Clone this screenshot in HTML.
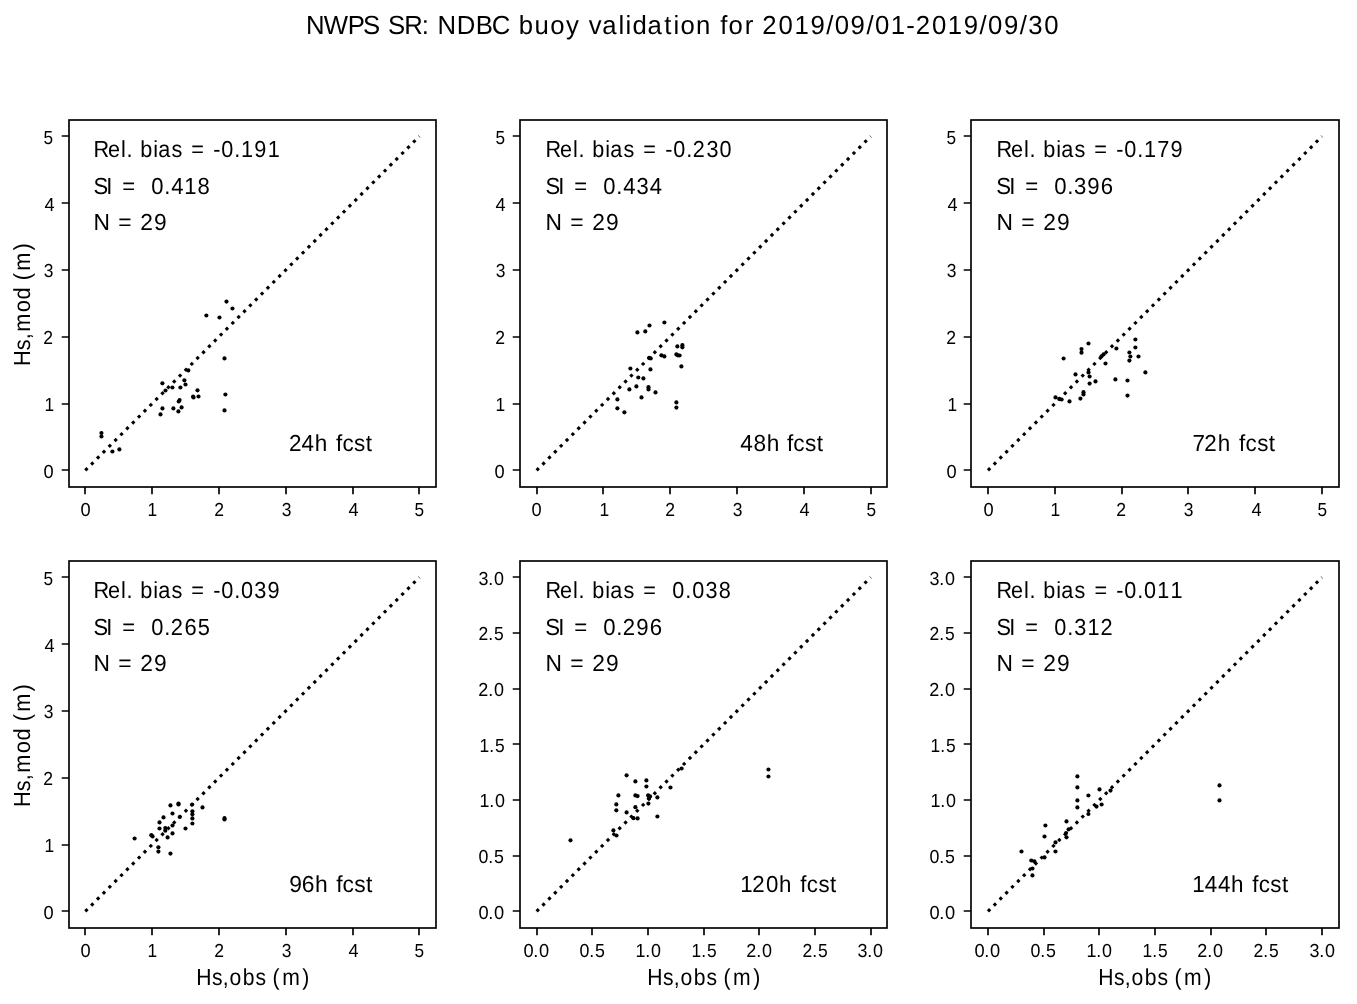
<!DOCTYPE html>
<html lang="en">
<head>
<meta charset="utf-8">
<title>NWPS SR: NDBC buoy validation</title>
<style>
html,body{margin:0;padding:0;background:#fff;}
body{width:1357px;height:1004px;overflow:hidden;}
svg{display:block;will-change:transform;}
svg text{font-family:'Liberation Sans', sans-serif;fill:#000;white-space:pre;text-rendering:geometricPrecision;}
.sp{fill:none;stroke:#000;stroke-width:1.667;stroke-linejoin:miter;}
.tk{stroke:#000;stroke-width:1.667;fill:none;}
.dg{stroke:#000;stroke-width:3.125;stroke-dasharray:3.125 5.15625;fill:none;}
.pt circle{fill:#000;}
</style>
</head>
<body>
<svg width="1357" height="1004" viewBox="0 0 1357 1004">
<rect x="0" y="0" width="1357" height="1004" fill="#fff"/>
<g id="title">
<text xml:space="preserve" transform="scale(0.983,1)" x="311.19 329.46 353.84 369.35 386.81 394.72 411.13 428.99 436.26 445.16 464.65 483.98 500.34 519.24 527.84 543.84 559.76 575.87 588.96 599.01 612.63 629.26 636.41 643.56 658.64 675.86 685.23 692.19 708.11 722.67 732.83 741.14 757.56 766.28 775.5 792.07 808.15 824.4 840.55 849.17 865.31 881.47 890.09 906.18 921.95 931.52 948.09 964.17 980.42 996.57 1005.19 1021.33 1037.49 1046.11 1062.3" y="34" font-size="26.17">NWPS SR: NDBC buoy validation for 2019/09/01-2019/09/30</text>
</g>
<g id="panel1">
<line class="dg" x1="85.3" y1="470.4" x2="419.4" y2="136.3"/>
<g class="pt"><circle cx="101.45" cy="433" r="2.08"/><circle cx="101.45" cy="436.5" r="2.08"/><circle cx="112.4" cy="451.5" r="2.08"/><circle cx="119.4" cy="449.4" r="2.08"/><circle cx="162.4" cy="383.3" r="2.08"/><circle cx="165.5" cy="390.5" r="2.08"/><circle cx="172.4" cy="387.5" r="2.08"/><circle cx="180.4" cy="387.5" r="2.08"/><circle cx="184.4" cy="380.3" r="2.08"/><circle cx="185.5" cy="384.5" r="2.08"/><circle cx="188.3" cy="370.4" r="2.08"/><circle cx="197.5" cy="390.3" r="2.08"/><circle cx="193.1" cy="396.6" r="2.08"/><circle cx="193.5" cy="397.5" r="2.08"/><circle cx="198.5" cy="396.5" r="2.08"/><circle cx="179.6" cy="400.1" r="2.08"/><circle cx="178.7" cy="401.5" r="2.08"/><circle cx="162.45" cy="408.4" r="2.08"/><circle cx="160.5" cy="414.4" r="2.08"/><circle cx="173.4" cy="408.4" r="2.08"/><circle cx="178.4" cy="411.4" r="2.08"/><circle cx="181.6" cy="407.4" r="2.08"/><circle cx="224.5" cy="358.4" r="2.08"/><circle cx="225.4" cy="394.5" r="2.08"/><circle cx="224.5" cy="410.4" r="2.08"/><circle cx="226.5" cy="301.6" r="2.08"/><circle cx="232.45" cy="308.5" r="2.08"/><circle cx="206.35" cy="315.5" r="2.08"/><circle cx="219.5" cy="317.5" r="2.08"/></g>
<path class="tk" d="M85 487V494.29M69 470H61.71M152 487V494.29M69 404H61.71M219 487V494.29M69 337H61.71M286 487V494.29M69 270H61.71M353 487V494.29M69 203H61.71M419 487V494.29M69 136H61.71"/>
<rect class="sp" x="69" y="120" width="367" height="367"/>
<text xml:space="preserve" transform="scale(0.966,1)" x="83.25" y="515.98" font-size="18.9">0</text>
<text xml:space="preserve" transform="scale(0.921,1)" x="160.2" y="516" font-size="18.9">1</text>
<text xml:space="preserve" transform="scale(0.93,1)" x="230.5" y="516" font-size="18.9">2</text>
<text xml:space="preserve" transform="scale(0.923,1)" x="305.15" y="515.98" font-size="18.9">3</text>
<text xml:space="preserve" transform="scale(0.96,1)" x="362.91" y="516" font-size="18.9">4</text>
<text xml:space="preserve" transform="scale(0.911,1)" x="455.13" y="515.98" font-size="18.9">5</text>
<text xml:space="preserve" transform="scale(0.966,1)" x="44.95" y="477.98" font-size="18.9">0</text>
<text xml:space="preserve" transform="scale(0.921,1)" x="48.37" y="411" font-size="18.9">1</text>
<text xml:space="preserve" transform="scale(0.93,1)" x="46.63" y="344" font-size="18.9">2</text>
<text xml:space="preserve" transform="scale(0.923,1)" x="47.29" y="276.98" font-size="18.9">3</text>
<text xml:space="preserve" transform="scale(0.96,1)" x="46.25" y="211" font-size="18.9">4</text>
<text xml:space="preserve" transform="scale(0.911,1)" x="47.89" y="143.98" font-size="18.9">5</text>
<text xml:space="preserve" transform="scale(0.932,1)" x="100.39 115.81 129.72 135.78 142.24 150.48 164.47 169.75 184.07 195.7 205.33 218.9 228.83 237.36 251.26 258.61 272.91 287.17" y="157" font-size="23.25">Rel. bias = -0.191</text>
<text xml:space="preserve" transform="scale(0.947,1)" x="98.64 112.14 118.6 129.11 142.69 142.69 159.72 173.45 180.72 194.61 208.62" y="194" font-size="23.25">SI =  0.418</text>
<text xml:space="preserve" transform="scale(0.98,1)" x="95.42 112.21 120.7 134.28 143.21 157.06" y="230" font-size="23.25">N = 29</text>
<text xml:space="preserve" transform="scale(0.968,1)" x="298.61 311.6 325.23 338.16 347.18 353.82 365.81 377.94" y="451" font-size="23.25">24h fcst</text>
<text xml:space="preserve" transform="translate(30,364) rotate(-90) scale(0.936,1)" x="-2.19 14.73 26.38 34.45 55.22 69 81.93 89.46 99.62 121.24" y="0" font-size="23.25">Hs,mod (m)</text>
</g>
<g id="panel2">
<line class="dg" x1="536.62" y1="470.4" x2="870.72" y2="136.3"/>
<g class="pt"><circle cx="664.4" cy="322.5" r="2.08"/><circle cx="649.5" cy="325.5" r="2.08"/><circle cx="645.3" cy="331.4" r="2.08"/><circle cx="637.4" cy="332.4" r="2.08"/><circle cx="677.35" cy="346.45" r="2.08"/><circle cx="682.4" cy="345.2" r="2.08"/><circle cx="682.4" cy="347.35" r="2.08"/><circle cx="676.35" cy="354.4" r="2.08"/><circle cx="677.85" cy="355.3" r="2.08"/><circle cx="679.6" cy="355.5" r="2.08"/><circle cx="661.4" cy="355.3" r="2.08"/><circle cx="664.4" cy="356.4" r="2.08"/><circle cx="649.2" cy="357.9" r="2.08"/><circle cx="650.7" cy="358.4" r="2.08"/><circle cx="681.4" cy="366.4" r="2.08"/><circle cx="630.4" cy="368.5" r="2.08"/><circle cx="650.45" cy="369.4" r="2.08"/><circle cx="638.3" cy="377.5" r="2.08"/><circle cx="643.4" cy="378.4" r="2.08"/><circle cx="636.4" cy="386.4" r="2.08"/><circle cx="629.4" cy="389.4" r="2.08"/><circle cx="648.5" cy="387.2" r="2.08"/><circle cx="648.5" cy="389.4" r="2.08"/><circle cx="655.5" cy="392.4" r="2.08"/><circle cx="641.5" cy="397.4" r="2.08"/><circle cx="617.4" cy="399.4" r="2.08"/><circle cx="617.4" cy="408.3" r="2.08"/><circle cx="624.4" cy="412.3" r="2.08"/><circle cx="676.4" cy="402.4" r="2.08"/><circle cx="676.4" cy="407.6" r="2.08"/></g>
<path class="tk" d="M537 487V494.29M520 470H512.71M603 487V494.29M520 404H512.71M670 487V494.29M520 337H512.71M737 487V494.29M520 270H512.71M804 487V494.29M520 203H512.71M871 487V494.29M520 136H512.71"/>
<rect class="sp" x="520" y="120" width="367" height="367"/>
<text xml:space="preserve" transform="scale(0.966,1)" x="550.12" y="515.98" font-size="18.9">0</text>
<text xml:space="preserve" transform="scale(0.921,1)" x="650.97" y="516" font-size="18.9">1</text>
<text xml:space="preserve" transform="scale(0.93,1)" x="715.44" y="516" font-size="18.9">2</text>
<text xml:space="preserve" transform="scale(0.923,1)" x="793.77" y="515.98" font-size="18.9">3</text>
<text xml:space="preserve" transform="scale(0.96,1)" x="832.71" y="516" font-size="18.9">4</text>
<text xml:space="preserve" transform="scale(0.911,1)" x="951.29" y="515.98" font-size="18.9">5</text>
<text xml:space="preserve" transform="scale(0.966,1)" x="511.82" y="477.98" font-size="18.9">0</text>
<text xml:space="preserve" transform="scale(0.921,1)" x="538.05" y="411" font-size="18.9">1</text>
<text xml:space="preserve" transform="scale(0.93,1)" x="532.65" y="344" font-size="18.9">2</text>
<text xml:space="preserve" transform="scale(0.923,1)" x="537" y="276.98" font-size="18.9">3</text>
<text xml:space="preserve" transform="scale(0.96,1)" x="516.04" y="211" font-size="18.9">4</text>
<text xml:space="preserve" transform="scale(0.911,1)" x="544.04" y="143.98" font-size="18.9">5</text>
<text xml:space="preserve" transform="scale(0.93,1)" x="586.64 602.09 616.02 622.1 628.56 636.83 650.85 656.15 670.5 682.13 691.8 705.38 715.35 723.91 737.83 744.94 759.58 773.77" y="157" font-size="23.25">Rel. bias = -0.230</text>
<text xml:space="preserve" transform="scale(0.947,1)" x="575.94 589.43 595.89 606.4 619.98 619.98 637.02 650.74 658.01 672.04 685.99" y="194" font-size="23.25">SI =  0.434</text>
<text xml:space="preserve" transform="scale(0.98,1)" x="556.65 573.44 581.93 595.5 604.44 618.28" y="230" font-size="23.25">N = 29</text>
<text xml:space="preserve" transform="scale(0.974,1)" x="760.1 773.63 787.12 800.05 807.93 814.51 826.43 838.5" y="451" font-size="23.25">48h fcst</text>
</g>
<g id="panel3">
<line class="dg" x1="987.94" y1="470.4" x2="1322.04" y2="136.3"/>
<g class="pt"><circle cx="1088.5" cy="343.5" r="2.08"/><circle cx="1081.5" cy="349.1" r="2.08"/><circle cx="1081.5" cy="352.7" r="2.08"/><circle cx="1063.6" cy="358.5" r="2.08"/><circle cx="1135.4" cy="339.5" r="2.08"/><circle cx="1135.4" cy="347.5" r="2.08"/><circle cx="1116.4" cy="348.5" r="2.08"/><circle cx="1129.4" cy="352.5" r="2.08"/><circle cx="1130.4" cy="356.5" r="2.08"/><circle cx="1138.5" cy="356.5" r="2.08"/><circle cx="1129.4" cy="360.6" r="2.08"/><circle cx="1101.5" cy="356.3" r="2.08"/><circle cx="1103.6" cy="354.3" r="2.08"/><circle cx="1105.5" cy="363.5" r="2.08"/><circle cx="1088.5" cy="372.4" r="2.08"/><circle cx="1089.6" cy="376.5" r="2.08"/><circle cx="1075.5" cy="374.4" r="2.08"/><circle cx="1095.5" cy="381.4" r="2.08"/><circle cx="1089.6" cy="383.6" r="2.08"/><circle cx="1115.4" cy="379.4" r="2.08"/><circle cx="1127.5" cy="380.5" r="2.08"/><circle cx="1145.4" cy="372.4" r="2.08"/><circle cx="1083.5" cy="392.2" r="2.08"/><circle cx="1083.5" cy="394.4" r="2.08"/><circle cx="1080.4" cy="398.6" r="2.08"/><circle cx="1069.5" cy="401.4" r="2.08"/><circle cx="1055.5" cy="397.4" r="2.08"/><circle cx="1059.3" cy="398.9" r="2.08"/><circle cx="1061.6" cy="399.5" r="2.08"/><circle cx="1127.5" cy="395.6" r="2.08"/></g>
<path class="tk" d="M988 487V494.29M971 470H963.71M1055 487V494.29M971 404H963.71M1122 487V494.29M971 337H963.71M1188 487V494.29M971 270H963.71M1255 487V494.29M971 203H963.71M1322 487V494.29M971 136H963.71"/>
<rect class="sp" x="971" y="120" width="368" height="367"/>
<text xml:space="preserve" transform="scale(0.966,1)" x="1018.03" y="515.98" font-size="18.9">0</text>
<text xml:space="preserve" transform="scale(0.921,1)" x="1140.66" y="516" font-size="18.9">1</text>
<text xml:space="preserve" transform="scale(0.93,1)" x="1200.39" y="516" font-size="18.9">2</text>
<text xml:space="preserve" transform="scale(0.923,1)" x="1282.39" y="515.98" font-size="18.9">3</text>
<text xml:space="preserve" transform="scale(0.96,1)" x="1303.54" y="516" font-size="18.9">4</text>
<text xml:space="preserve" transform="scale(0.911,1)" x="1446.35" y="515.98" font-size="18.9">5</text>
<text xml:space="preserve" transform="scale(0.966,1)" x="979.73" y="477.98" font-size="18.9">0</text>
<text xml:space="preserve" transform="scale(0.921,1)" x="1028.82" y="411" font-size="18.9">1</text>
<text xml:space="preserve" transform="scale(0.93,1)" x="1017.59" y="344" font-size="18.9">2</text>
<text xml:space="preserve" transform="scale(0.923,1)" x="1025.62" y="276.98" font-size="18.9">3</text>
<text xml:space="preserve" transform="scale(0.96,1)" x="986.87" y="211" font-size="18.9">4</text>
<text xml:space="preserve" transform="scale(0.911,1)" x="1039.1" y="143.98" font-size="18.9">5</text>
<text xml:space="preserve" transform="scale(0.934,1)" x="1066.96 1082.36 1096.25 1102.3 1108.76 1116.95 1130.92 1136.19 1150.48 1162.1 1171.68 1185.26 1195.14 1203.65 1217.53 1224.85 1239.1 1253.31" y="157" font-size="23.25">Rel. bias = -0.179</text>
<text xml:space="preserve" transform="scale(0.954,1)" x="1044.4 1057.83 1064.29 1074.65 1088.23 1088.23 1105.04 1118.69 1125.92 1139.77 1153.83" y="194" font-size="23.25">SI =  0.396</text>
<text xml:space="preserve" transform="scale(0.98,1)" x="1016.85 1033.64 1042.13 1055.71 1064.64 1078.48" y="230" font-size="23.25">N = 29</text>
<text xml:space="preserve" transform="scale(0.964,1)" x="1236.91 1249.31 1263.33 1276.26 1285.36 1292.03 1304.08 1316.25" y="451" font-size="23.25">72h fcst</text>
</g>
<g id="panel4">
<line class="dg" x1="85.3" y1="911.4" x2="419.4" y2="577.3"/>
<g class="pt"><circle cx="170.45" cy="805.4" r="2.08"/><circle cx="178.5" cy="803.6" r="2.08"/><circle cx="178.5" cy="804.4" r="2.08"/><circle cx="192.2" cy="804.5" r="2.08"/><circle cx="202.5" cy="807.4" r="2.08"/><circle cx="172.5" cy="813.5" r="2.08"/><circle cx="163.5" cy="817.45" r="2.08"/><circle cx="179.7" cy="817" r="2.08"/><circle cx="192.4" cy="811.3" r="2.08"/><circle cx="192.4" cy="814.3" r="2.08"/><circle cx="192.4" cy="818.4" r="2.08"/><circle cx="192.4" cy="823.5" r="2.08"/><circle cx="159.5" cy="822.4" r="2.08"/><circle cx="159.5" cy="828.5" r="2.08"/><circle cx="165.3" cy="828" r="2.08"/><circle cx="165.3" cy="830.7" r="2.08"/><circle cx="172.5" cy="825.5" r="2.08"/><circle cx="185.5" cy="828.5" r="2.08"/><circle cx="172.5" cy="833.4" r="2.08"/><circle cx="167.6" cy="837.4" r="2.08"/><circle cx="151.3" cy="835.2" r="2.08"/><circle cx="152.6" cy="836.4" r="2.08"/><circle cx="134.6" cy="838.5" r="2.08"/><circle cx="158.4" cy="847.3" r="2.08"/><circle cx="158.4" cy="851.6" r="2.08"/><circle cx="170.45" cy="853.6" r="2.08"/><circle cx="224.5" cy="818.2" r="2.08"/><circle cx="224.5" cy="819.5" r="2.08"/></g>
<path class="tk" d="M85 928V935.29M69 911H61.71M152 928V935.29M69 845H61.71M219 928V935.29M69 778H61.71M286 928V935.29M69 711H61.71M353 928V935.29M69 644H61.71M419 928V935.29M69 577H61.71"/>
<rect class="sp" x="69" y="561" width="367" height="367"/>
<text xml:space="preserve" transform="scale(0.966,1)" x="83.25" y="956.98" font-size="18.9">0</text>
<text xml:space="preserve" transform="scale(0.921,1)" x="160.2" y="957" font-size="18.9">1</text>
<text xml:space="preserve" transform="scale(0.93,1)" x="230.5" y="957" font-size="18.9">2</text>
<text xml:space="preserve" transform="scale(0.923,1)" x="305.15" y="956.98" font-size="18.9">3</text>
<text xml:space="preserve" transform="scale(0.96,1)" x="362.91" y="957" font-size="18.9">4</text>
<text xml:space="preserve" transform="scale(0.911,1)" x="455.13" y="956.98" font-size="18.9">5</text>
<text xml:space="preserve" transform="scale(0.966,1)" x="44.95" y="918.98" font-size="18.9">0</text>
<text xml:space="preserve" transform="scale(0.921,1)" x="48.37" y="852" font-size="18.9">1</text>
<text xml:space="preserve" transform="scale(0.93,1)" x="46.63" y="785" font-size="18.9">2</text>
<text xml:space="preserve" transform="scale(0.923,1)" x="47.29" y="717.98" font-size="18.9">3</text>
<text xml:space="preserve" transform="scale(0.96,1)" x="46.25" y="652" font-size="18.9">4</text>
<text xml:space="preserve" transform="scale(0.911,1)" x="47.89" y="584.98" font-size="18.9">5</text>
<text xml:space="preserve" transform="scale(0.935,1)" x="100.04 115.42 129.3 135.34 141.8 149.97 163.93 169.19 183.46 195.09 204.65 218.22 228.08 236.58 250.44 257.84 272.06 286.19" y="598" font-size="23.25">Rel. bias = -0.039</text>
<text xml:space="preserve" transform="scale(0.941,1)" x="99.32 112.87 119.33 129.97 143.55 143.55 160.78 174.57 181.57 196.03 210.07" y="635" font-size="23.25">SI =  0.265</text>
<text xml:space="preserve" transform="scale(0.98,1)" x="95.42 112.21 120.7 134.28 143.21 157.06" y="671" font-size="23.25">N = 29</text>
<text xml:space="preserve" transform="scale(0.983,1)" x="294.28 306.91 320.42 333.35 342.09 348.51 360.39 372.38" y="892" font-size="23.25">96h fcst</text>
<text xml:space="preserve" transform="scale(0.909,1)" x="215.82 233.16 245.08 252.6 267.08 281.02 292.64 299.76 310.38 332.45" y="985" font-size="23.25">Hs,obs (m)</text>
<text xml:space="preserve" transform="translate(30,805) rotate(-90) scale(0.936,1)" x="-2.19 14.73 26.38 34.45 55.22 69 81.93 89.46 99.62 121.24" y="0" font-size="23.25">Hs,mod (m)</text>
</g>
<g id="panel5">
<line class="dg" x1="536.62" y1="911.4" x2="870.72" y2="577.3"/>
<g class="pt"><circle cx="626.6" cy="775.3" r="2.08"/><circle cx="635.4" cy="781.4" r="2.08"/><circle cx="646.4" cy="780.4" r="2.08"/><circle cx="646.4" cy="786.5" r="2.08"/><circle cx="618.4" cy="795.45" r="2.08"/><circle cx="635.4" cy="795.45" r="2.08"/><circle cx="637.6" cy="796.1" r="2.08"/><circle cx="648.1" cy="795.45" r="2.08"/><circle cx="650.05" cy="796.4" r="2.08"/><circle cx="648.9" cy="798.3" r="2.08"/><circle cx="657.4" cy="797.4" r="2.08"/><circle cx="670.5" cy="787.5" r="2.08"/><circle cx="681.6" cy="768.5" r="2.08"/><circle cx="648.4" cy="803.6" r="2.08"/><circle cx="616.3" cy="804.4" r="2.08"/><circle cx="616.3" cy="810.3" r="2.08"/><circle cx="635.4" cy="807.2" r="2.08"/><circle cx="626.6" cy="812.4" r="2.08"/><circle cx="633.5" cy="818.2" r="2.08"/><circle cx="637.6" cy="818.4" r="2.08"/><circle cx="657.4" cy="816.5" r="2.08"/><circle cx="613.4" cy="830.4" r="2.08"/><circle cx="616.5" cy="835.5" r="2.08"/><circle cx="570.5" cy="840.3" r="2.08"/><circle cx="768.45" cy="769.5" r="2.08"/><circle cx="768.45" cy="776.5" r="2.08"/></g>
<path class="tk" d="M537 928V935.29M520 911H512.71M592 928V935.29M520 856H512.71M648 928V935.29M520 800H512.71M704 928V935.29M520 744H512.71M759 928V935.29M520 689H512.71M815 928V935.29M520 633H512.71M871 928V935.29M520 577H512.71"/>
<rect class="sp" x="520" y="561" width="367" height="367"/>
<text xml:space="preserve" transform="scale(0.967,1)" x="541.28 551.41 557.3" y="957" font-size="18.9">0.0</text>
<text xml:space="preserve" transform="scale(0.942,1)" x="615.23 625.56 631.6" y="957" font-size="18.9">0.5</text>
<text xml:space="preserve" transform="scale(0.947,1)" x="670.96 681.37 687.45" y="957" font-size="18.9">1.0</text>
<text xml:space="preserve" transform="scale(0.921,1)" x="750.86 761.49 767.72" y="957" font-size="18.9">1.5</text>
<text xml:space="preserve" transform="scale(0.951,1)" x="784.7 795.22 801.26" y="957" font-size="18.9">2.0</text>
<text xml:space="preserve" transform="scale(0.925,1)" x="867.45 878.19 884.38" y="957" font-size="18.9">2.5</text>
<text xml:space="preserve" transform="scale(0.948,1)" x="904.56 914.83 920.9" y="957" font-size="18.9">3.0</text>
<text xml:space="preserve" transform="scale(0.967,1)" x="494.74 504.87 510.77" y="919" font-size="18.9">0.0</text>
<text xml:space="preserve" transform="scale(0.942,1)" x="508.01 518.34 524.38" y="863" font-size="18.9">0.5</text>
<text xml:space="preserve" transform="scale(0.947,1)" x="506.23 516.64 522.72" y="807" font-size="18.9">1.0</text>
<text xml:space="preserve" transform="scale(0.921,1)" x="520.68 531.3 537.54" y="752" font-size="18.9">1.5</text>
<text xml:space="preserve" transform="scale(0.951,1)" x="502.89 513.41 519.45" y="696" font-size="18.9">2.0</text>
<text xml:space="preserve" transform="scale(0.925,1)" x="517.18 527.92 534.11" y="640" font-size="18.9">2.5</text>
<text xml:space="preserve" transform="scale(0.948,1)" x="504.77 515.04 521.11" y="585" font-size="18.9">3.0</text>
<text xml:space="preserve" transform="scale(0.931,1)" x="586 601.44 615.36 621.44 627.9 636.15 650.15 655.45 669.78 681.4 691.06 704.63 704.63 722.19 736.1 743.54 757.82 771.93" y="598" font-size="23.25">Rel. bias =  0.038</text>
<text xml:space="preserve" transform="scale(0.955,1)" x="571.05 584.47 590.93 601.27 614.85 614.85 631.63 645.27 652.11 666.32 680.37" y="635" font-size="23.25">SI =  0.296</text>
<text xml:space="preserve" transform="scale(0.98,1)" x="556.65 573.44 581.93 595.5 604.44 618.28" y="671" font-size="23.25">N = 29</text>
<text xml:space="preserve" transform="scale(0.958,1)" x="772.8 785.35 799.51 813.29 826.22 835.44 842.11 854.29 866.53" y="892" font-size="23.25">120h fcst</text>
<text xml:space="preserve" transform="scale(0.909,1)" x="711.97 729.31 741.23 748.75 763.23 777.16 788.79 795.91 806.52 828.6" y="985" font-size="23.25">Hs,obs (m)</text>
</g>
<g id="panel6">
<line class="dg" x1="987.94" y1="911.4" x2="1322.04" y2="577.3"/>
<g class="pt"><circle cx="1066.5" cy="821.4" r="2.08"/><circle cx="1045.4" cy="825.5" r="2.08"/><circle cx="1044.5" cy="836.5" r="2.08"/><circle cx="1068.6" cy="829.3" r="2.08"/><circle cx="1066.1" cy="833" r="2.08"/><circle cx="1066.5" cy="837.3" r="2.08"/><circle cx="1055.5" cy="842.4" r="2.08"/><circle cx="1055.5" cy="851.5" r="2.08"/><circle cx="1021.5" cy="851.5" r="2.08"/><circle cx="1044.5" cy="857.4" r="2.08"/><circle cx="1031.3" cy="860.5" r="2.08"/><circle cx="1034.4" cy="861.4" r="2.08"/><circle cx="1032.45" cy="868.5" r="2.08"/><circle cx="1032.45" cy="875.4" r="2.08"/><circle cx="1077.4" cy="776.4" r="2.08"/><circle cx="1077.4" cy="787.45" r="2.08"/><circle cx="1077.4" cy="800.4" r="2.08"/><circle cx="1077.4" cy="807.4" r="2.08"/><circle cx="1088.4" cy="795.5" r="2.08"/><circle cx="1099.5" cy="789.4" r="2.08"/><circle cx="1110.5" cy="790.6" r="2.08"/><circle cx="1101.6" cy="804.5" r="2.08"/><circle cx="1096.5" cy="806.6" r="2.08"/><circle cx="1088.4" cy="814" r="2.08"/><circle cx="1219.5" cy="785.45" r="2.08"/><circle cx="1219.5" cy="800.4" r="2.08"/></g>
<path class="tk" d="M988 928V935.29M971 911H963.71M1044 928V935.29M971 856H963.71M1099 928V935.29M971 800H963.71M1155 928V935.29M971 744H963.71M1211 928V935.29M971 689H963.71M1266 928V935.29M971 633H963.71M1322 928V935.29M971 577H963.71"/>
<rect class="sp" x="971" y="561" width="368" height="367"/>
<text xml:space="preserve" transform="scale(0.967,1)" x="1007.67 1017.8 1023.69" y="957" font-size="18.9">0.0</text>
<text xml:space="preserve" transform="scale(0.942,1)" x="1094 1104.33 1110.36" y="957" font-size="18.9">0.5</text>
<text xml:space="preserve" transform="scale(0.947,1)" x="1147.2 1157.62 1163.69" y="957" font-size="18.9">1.0</text>
<text xml:space="preserve" transform="scale(0.921,1)" x="1240.55 1251.17 1257.41" y="957" font-size="18.9">1.5</text>
<text xml:space="preserve" transform="scale(0.951,1)" x="1258.94 1269.46 1275.5" y="957" font-size="18.9">2.0</text>
<text xml:space="preserve" transform="scale(0.925,1)" x="1355.01 1365.76 1371.95" y="957" font-size="18.9">2.5</text>
<text xml:space="preserve" transform="scale(0.948,1)" x="1381.35 1391.62 1397.69" y="957" font-size="18.9">3.0</text>
<text xml:space="preserve" transform="scale(0.967,1)" x="961.13 971.26 977.16" y="919" font-size="18.9">0.0</text>
<text xml:space="preserve" transform="scale(0.942,1)" x="986.78 997.11 1003.15" y="863" font-size="18.9">0.5</text>
<text xml:space="preserve" transform="scale(0.947,1)" x="982.47 992.88 998.96" y="807" font-size="18.9">1.0</text>
<text xml:space="preserve" transform="scale(0.921,1)" x="1010.36 1020.99 1027.22" y="752" font-size="18.9">1.5</text>
<text xml:space="preserve" transform="scale(0.951,1)" x="977.13 987.65 993.69" y="696" font-size="18.9">2.0</text>
<text xml:space="preserve" transform="scale(0.925,1)" x="1004.74 1015.49 1021.68" y="640" font-size="18.9">2.5</text>
<text xml:space="preserve" transform="scale(0.948,1)" x="980.51 990.78 996.85" y="585" font-size="18.9">3.0</text>
<text xml:space="preserve" transform="scale(0.93,1)" x="1071.59 1087.04 1100.97 1107.05 1113.51 1121.78 1135.8 1141.11 1155.45 1167.08 1176.75 1190.33 1200.3 1208.86 1222.78 1230.23 1244.39 1258.64" y="598" font-size="23.25">Rel. bias = -0.011</text>
<text xml:space="preserve" transform="scale(0.934,1)" x="1066.93 1080.55 1087.01 1097.81 1111.39 1111.39 1128.84 1142.72 1150.17 1164.22 1178.16" y="635" font-size="23.25">SI =  0.312</text>
<text xml:space="preserve" transform="scale(0.98,1)" x="1016.85 1033.64 1042.13 1055.71 1064.64 1078.48" y="671" font-size="23.25">N = 29</text>
<text xml:space="preserve" transform="scale(0.965,1)" x="1235.54 1248.34 1262.07 1275.74 1288.67 1297.75 1304.35 1316.44 1328.61" y="892" font-size="23.25">144h fcst</text>
<text xml:space="preserve" transform="scale(0.909,1)" x="1208.12 1225.46 1237.38 1244.9 1259.38 1273.31 1284.94 1292.06 1302.67 1324.75" y="985" font-size="23.25">Hs,obs (m)</text>
</g>
</svg>
</body>
</html>
